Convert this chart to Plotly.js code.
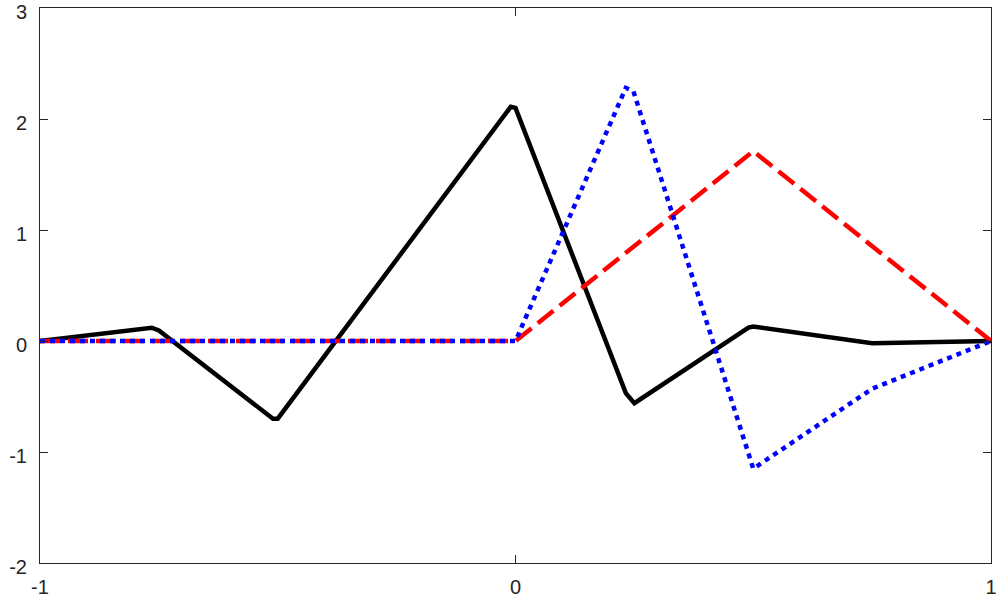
<!DOCTYPE html>
<html>
<head>
<meta charset="utf-8">
<script src="https://cdn.plot.ly/plotly-3.0.1.min.js"></script>
<style>html,body{margin:0;padding:0;background:#fff;}#chart{width:997px;height:598px;}</style>
</head>
<body>
<div id="chart"></div>
<script>
const blackX = [-1, -0.765, -0.75, -0.51, -0.5, -0.01, 0.0, 0.232, 0.25, 0.49, 0.5, 0.75, 1];
const blackY = [0, 0.12, 0.095, -0.70, -0.70, 2.11, 2.10, -0.47, -0.56, 0.12, 0.13, -0.02, 0.0];
const redX = [-1, 0, 0.5, 1];
const redY = [0, 0, 1.71, 0];
const blueX = [-1, 0, 0.232, 0.248, 0.5, 0.75, 1];
const blueY = [0, 0, 2.28, 2.25, -1.15, -0.43, 0];
const xTicks = [-1, 0, 1];
const yTicks = [-2, -1, 0, 1, 2, 3];

const traces = [
  {x: blackX, y: blackY, mode: 'lines', line: {color: '#000000', width: 4.5}},
  {x: redX, y: redY, mode: 'lines', line: {color: '#ff0000', width: 4.5, dash: '20px,8px'}},
  {x: blueX, y: blueY, mode: 'lines', line: {color: '#0000ff', width: 4.5, dash: '5px,5px'}}
];

const axisCommon = {
  showgrid: false, zeroline: false, showline: true, mirror: 'ticks',
  linecolor: '#262626', linewidth: 1, ticks: 'inside', ticklen: 8, tickwidth: 1,
  tickcolor: '#262626', ticklabeloverflow: 'allow',
  tickfont: {family: 'Liberation Sans, Arial, sans-serif', size: 20, color: '#262626'}
};

const layout = {
  width: 997, height: 598,
  margin: {l: 40, r: 6, t: 8, b: 35},
  paper_bgcolor: '#ffffff', plot_bgcolor: '#ffffff',
  showlegend: false,
  xaxis: Object.assign({}, axisCommon, {range: [-1, 1], tickvals: xTicks, ticktext: xTicks.map(String), ticklabelstandoff: 6}),
  yaxis: Object.assign({}, axisCommon, {range: [-2, 3], tickvals: yTicks, ticktext: yTicks.map(String), ticklabelstandoff: 8, ticklabelshift: 4})
};

Plotly.newPlot('chart', traces, layout, {displayModeBar: false, staticPlot: true});
</script>
</body>
</html>
